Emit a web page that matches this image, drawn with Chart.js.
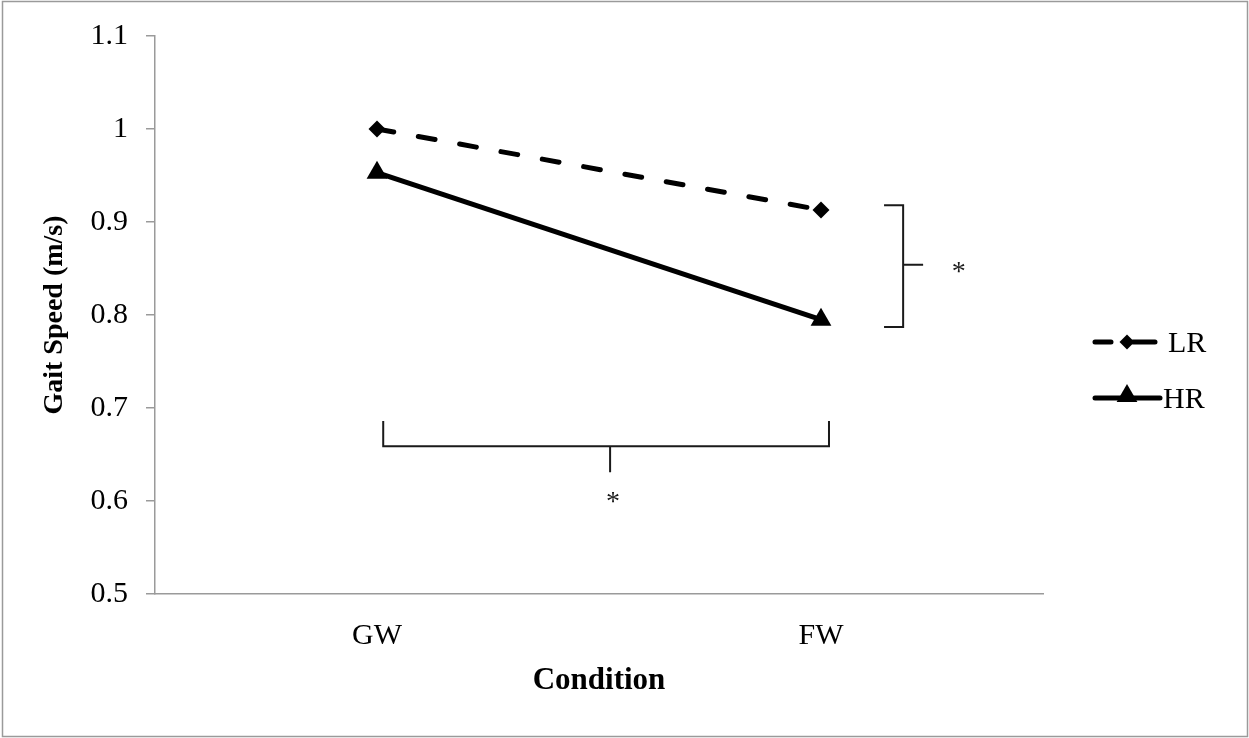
<!DOCTYPE html>
<html>
<head>
<meta charset="utf-8">
<title>Gait Speed by Condition</title>
<script src="https://cdn.jsdelivr.net/npm/chart.js@4.4.1/dist/chart.umd.min.js"></script>
<style>
    html, body { margin: 0; padding: 0; background: #fff; }
    #chart-wrap { width: 1249px; height: 738px; }
</style>
</head>
<body>
<div id="chart-wrap"><canvas id="gait-chart" width="1249" height="738"></canvas></div>
<script>
// ===== Gait speed: LR vs HR over walking condition =====

const conditions = ['GW', 'FW'];
const lrSpeed = [1.000, 0.913];
const hrSpeed = [0.953, 0.795];
const yTickValues = [0.5, 0.6, 0.7, 0.8, 0.9, 1.0, 1.1];

const AXIS_GREY = '#9a9a9a';
const SERIF = "'Liberation Serif', 'Times New Roman', serif";

// significance brackets, in data units (x = category index, y = m/s)
const conditionBracket = { from: 0.014, to: 1.018, y: 0.659, armTop: 0.686, stemEnd: 0.631, mid: 0.525, starY: 0.598 };
const groupBracket = { x: 1.185, armEnd: 1.142, top: 0.918, bottom: 0.787, mid: 0.854, stemEnd: 1.23, starX: 1.31, starY: 0.846 };

// outer frame + white background
const framePlugin = {
    id: 'frame',
    beforeDraw(chart) {
        const ctx = chart.ctx;
        ctx.save();
        ctx.fillStyle = '#fff';
        ctx.fillRect(0, 0, chart.width, chart.height);
        ctx.strokeStyle = AXIS_GREY;
        ctx.lineWidth = 1.5;
        ctx.strokeRect(2.5, 1.5, chart.width - 4, chart.height - 3);
        ctx.restore();
    }
};

// brackets with asterisks
const bracketPlugin = {
    id: 'brackets',
    afterDatasetsDraw(chart) {
        const { ctx, scales: { x, y } } = chart;
        ctx.save();
        ctx.strokeStyle = '#1a1a1a';
        ctx.lineWidth = 2;

        // GW vs FW
        const b = conditionBracket;
        const x1 = x.getPixelForValue(b.from), x2 = x.getPixelForValue(b.to);
        const yb = y.getPixelForValue(b.y), ya = y.getPixelForValue(b.armTop);
        const xm = x.getPixelForValue(b.mid);
        ctx.beginPath();
        ctx.moveTo(x1, ya); ctx.lineTo(x1, yb); ctx.lineTo(x2, yb); ctx.lineTo(x2, ya);
        ctx.moveTo(xm, yb); ctx.lineTo(xm, y.getPixelForValue(b.stemEnd));
        ctx.stroke();

        // LR vs HR
        const g = groupBracket;
        const gx = x.getPixelForValue(g.x), ge = x.getPixelForValue(g.armEnd);
        const gt = y.getPixelForValue(g.top), gb = y.getPixelForValue(g.bottom);
        const gm = y.getPixelForValue(g.mid);
        ctx.beginPath();
        ctx.moveTo(ge, gt); ctx.lineTo(gx, gt); ctx.lineTo(gx, gb); ctx.lineTo(ge, gb);
        ctx.moveTo(gx, gm); ctx.lineTo(x.getPixelForValue(g.stemEnd), gm);
        ctx.stroke();

        ctx.fillStyle = '#1a1a1a';
        ctx.font = '28px ' + SERIF;
        ctx.textAlign = 'center';
        ctx.textBaseline = 'middle';
        ctx.fillText('*', x.getPixelForValue(b.mid) + 3, y.getPixelForValue(b.starY));
        ctx.fillText('*', x.getPixelForValue(g.starX), y.getPixelForValue(g.starY));
        ctx.restore();
    }
};

function drawDiamond(ctx, cx, cy, r) {
    ctx.beginPath();
    ctx.moveTo(cx, cy - r); ctx.lineTo(cx + r, cy); ctx.lineTo(cx, cy + r); ctx.lineTo(cx - r, cy);
    ctx.closePath();
    ctx.fill();
}

function drawTriangle(ctx, cx, cy, r) {
    ctx.beginPath();
    ctx.moveTo(cx, cy - r); ctx.lineTo(cx + r * 0.866, cy + r / 2); ctx.lineTo(cx - r * 0.866, cy + r / 2);
    ctx.closePath();
    ctx.fill();
}

// Excel-style legend on the right: line with the marker in the middle
const legendPlugin = {
    id: 'sideLegend',
    afterDraw(chart) {
        const { ctx, chartArea } = chart;
        const left = chartArea.right + 50;
        const midY = (chartArea.top + chartArea.bottom) / 2;
        ctx.save();
        ctx.strokeStyle = '#000';
        ctx.fillStyle = '#000';
        ctx.lineWidth = 5;
        ctx.lineCap = 'round';

        // LR
        let ly = midY + 27;
        ctx.beginPath();
        ctx.moveTo(left + 2, ly); ctx.lineTo(left + 18, ly);
        ctx.moveTo(left + 40, ly); ctx.lineTo(left + 62, ly);
        ctx.stroke();
        drawDiamond(ctx, left + 34, ly, 7.5);

        // HR
        let hy = midY + 83;
        ctx.beginPath();
        ctx.moveTo(left + 2, hy); ctx.lineTo(left + 67, hy);
        ctx.stroke();
        drawTriangle(ctx, left + 34, hy - 2, 12);

        ctx.font = '30px ' + SERIF;
        ctx.textAlign = 'left';
        ctx.textBaseline = 'middle';
        ctx.fillText('LR', left + 75, ly + 2);
        ctx.fillText('HR', left + 70, hy + 2);
        ctx.restore();
    }
};

const ctx = document.getElementById('gait-chart');

new Chart(ctx, {
    type: 'line',
    data: {
        labels: conditions,
        datasets: [
            {
                label: 'LR',
                data: lrSpeed,
                borderColor: '#000',
                backgroundColor: '#000',
                borderWidth: 5,
                borderDash: [17, 25],
                borderCapStyle: 'round',
                pointStyle: 'rectRot',
                pointRadius: 8.5,
                pointBorderWidth: 0,
                fill: false
            },
            {
                label: 'HR',
                data: hrSpeed,
                borderColor: '#000',
                backgroundColor: '#000',
                borderWidth: 5,
                pointStyle: 'triangle',
                pointRadius: 12,
                pointBorderWidth: 0,
                fill: false
            }
        ]
    },
    options: {
        responsive: false,
        animation: false,
        devicePixelRatio: 1,
        layout: {
            padding: { left: 34, top: 34, right: 206, bottom: 34 }
        },
        plugins: {
            legend: { display: false },
            tooltip: { enabled: false }
        },
        scales: {
            x: {
                type: 'category',
                offset: true,
                grid: { display: false, drawTicks: false },
                border: { display: true, color: AXIS_GREY, width: 1.5 },
                ticks: { color: '#000', padding: 24, font: { family: SERIF, size: 30 } },
                title: {
                    display: true,
                    text: 'Condition',
                    color: '#000',
                    font: { family: SERIF, size: 31, weight: 'bold' }
                },
                afterFit: (scale) => { scale.height = 110; }
            },
            y: {
                min: 0.5,
                max: 1.1,
                afterBuildTicks: (scale) => {
                    scale.ticks = yTickValues.map(v => ({ value: v }));
                },
                grid: {
                    display: true,
                    drawOnChartArea: false,
                    drawTicks: true,
                    tickLength: 9,
                    color: AXIS_GREY,
                    lineWidth: 1.5
                },
                border: { display: true, color: AXIS_GREY, width: 1.5 },
                ticks: {
                    color: '#000',
                    padding: 18,
                    font: { family: SERIF, size: 30 },
                    callback: (value) => String(+Number(value).toFixed(1))
                },
                title: {
                    display: true,
                    text: 'Gait Speed (m/s)',
                    color: '#000',
                    font: { family: SERIF, size: 28, weight: 'bold' }
                },
                afterFit: (scale) => { scale.width = 121; }
            }
        }
    },
    plugins: [framePlugin, bracketPlugin, legendPlugin]
});
</script>
</body>
</html>
